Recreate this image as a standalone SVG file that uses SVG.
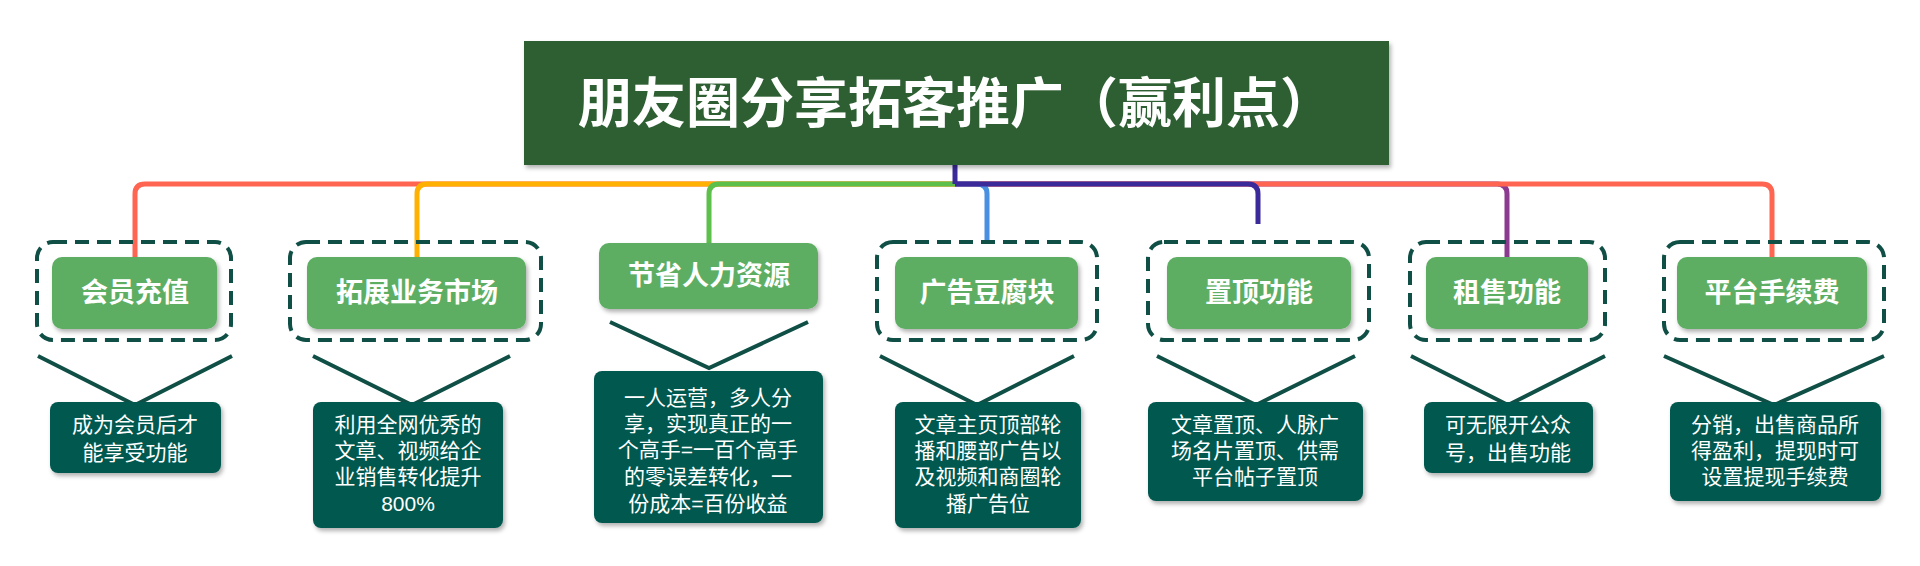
<svg xmlns="http://www.w3.org/2000/svg" width="1920" height="566" viewBox="0 0 1920 566">
<style>
text{font-family:"Liberation Sans","Noto Sans CJK SC",sans-serif;text-anchor:middle;dominant-baseline:central;fill:#fff}
.t{font-size:54px;font-weight:bold}
.n{font-size:27px;font-weight:bold}
.d{font-size:21px}
.dash{fill:none;stroke:#0f4f45;stroke-width:4;stroke-dasharray:14 8}
.g{fill:#5dae64}
.b{fill:#03584f}
.chev{fill:none;stroke:#0f4f45;stroke-width:4}
.c{fill:none;stroke-width:5;stroke-linejoin:round}
</style>
<defs><filter id="sh" x="-10%" y="-10%" width="130%" height="140%"><feDropShadow dx="2" dy="3" stdDeviation="2" flood-opacity="0.3"/></filter></defs>
<rect width="1920" height="566" fill="#fff"/>
<g id="connectors">
<path class="c" stroke="#8b3a8f" d="M955 184 H1497 Q1507 184 1507 194 V257"/>
<path class="c" stroke="#ff6550" d="M955 184 H1762 Q1772 184 1772 194 V257"/>
<path class="c" stroke="#4a90e2" d="M955 184 H977 Q987 184 987 194 V242"/>
<path class="c" stroke="#3a2a9a" d="M955 184 H1248 Q1258 184 1258 194 V224"/>
<path class="c" stroke="#ff6550" d="M955 184 H145 Q135 184 135 194 V257"/>
<path class="c" stroke="#ffb000" d="M955 184 H427 Q417 184 417 194 V257"/>
<path class="c" stroke="#5cc04a" d="M955 184 H719 Q709 184 709 194 V243"/>
<path class="c" stroke="#3a2a9a" d="M955 165 V184"/>
</g>
<g id="title"><rect x="524" y="41" width="865" height="124" fill="#2e5e30" filter="url(#sh)"/><text class="t" x="956" y="104">朋友圈分享拓客推广（赢利点）</text></g>
<g id="n1"><rect class="dash" x="37" y="242" width="194" height="98" rx="16"/><rect class="g" x="52" y="257" width="165" height="72" rx="10" filter="url(#sh)"/><text class="n" x="135" y="293">会员充值</text>
<path class="chev" d="M38 356 L135 405 L232 356"/><rect class="b" x="50" y="402" width="171" height="71" rx="8" filter="url(#sh)"/><text class="d" x="135" y="424">成为会员后才</text><text class="d" x="135" y="452">能享受功能</text></g>
<g id="n2"><rect class="dash" x="290" y="242" width="251" height="98" rx="16"/><rect class="g" x="307" y="257" width="219" height="72" rx="10" filter="url(#sh)"/><text class="n" x="417" y="293">拓展业务市场</text>
<path class="chev" d="M313 356 L412 405 L510 356"/><rect class="b" x="313" y="402" width="190" height="126" rx="8" filter="url(#sh)"/><text class="d" x="408" y="424">利用全网优秀的</text><text class="d" x="408" y="450">文章、视频给企</text><text class="d" x="408" y="476">业销售转化提升</text><text class="d" x="408" y="503">800%</text></g>
<g id="n3"><rect class="g" x="599" y="243" width="219" height="66" rx="10" filter="url(#sh)"/><text class="n" x="709" y="276">节省人力资源</text>
<path class="chev" d="M610 322 L709 368 L808 322"/><rect class="b" x="594" y="371" width="229" height="152" rx="8" filter="url(#sh)"/><text class="d" x="708" y="397">一人运营，多人分</text><text class="d" x="708" y="423">享，实现真正的一</text><text class="d" x="708" y="449">个高手=一百个高手</text><text class="d" x="708" y="476">的零误差转化，一</text><text class="d" x="708" y="503">份成本=百份收益</text></g>
<g id="n4"><rect class="dash" x="877" y="242" width="220" height="98" rx="16"/><rect class="g" x="895" y="257" width="183" height="72" rx="10" filter="url(#sh)"/><text class="n" x="987" y="293">广告豆腐块</text>
<path class="chev" d="M880 356 L977 405 L1074 356"/><rect class="b" x="895" y="402" width="186" height="126" rx="8" filter="url(#sh)"/><text class="d" x="988" y="424">文章主页顶部轮</text><text class="d" x="988" y="450">播和腰部广告以</text><text class="d" x="988" y="476">及视频和商圈轮</text><text class="d" x="988" y="503">播广告位</text></g>
<g id="n5"><rect class="dash" x="1148" y="242" width="221" height="98" rx="16"/><rect class="g" x="1167" y="257" width="184" height="72" rx="10" filter="url(#sh)"/><text class="n" x="1259" y="293">置顶功能</text>
<path class="chev" d="M1157 356 L1256 405 L1355 356"/><rect class="b" x="1148" y="402" width="215" height="99" rx="8" filter="url(#sh)"/><text class="d" x="1255" y="424">文章置顶、人脉广</text><text class="d" x="1255" y="450">场名片置顶、供需</text><text class="d" x="1255" y="476">平台帖子置顶</text></g>
<g id="n6"><rect class="dash" x="1410" y="242" width="195" height="98" rx="16"/><rect class="g" x="1426" y="257" width="162" height="72" rx="10" filter="url(#sh)"/><text class="n" x="1507" y="293">租售功能</text>
<path class="chev" d="M1411 356 L1508 405 L1605 356"/><rect class="b" x="1424" y="402" width="169" height="71" rx="8" filter="url(#sh)"/><text class="d" x="1508" y="424">可无限开公众</text><text class="d" x="1508" y="452">号，出售功能</text></g>
<g id="n7"><rect class="dash" x="1664" y="242" width="220" height="98" rx="16"/><rect class="g" x="1677" y="257" width="190" height="72" rx="10" filter="url(#sh)"/><text class="n" x="1772" y="293">平台手续费</text>
<path class="chev" d="M1664 356 L1774 405 L1884 356"/><rect class="b" x="1670" y="402" width="211" height="99" rx="8" filter="url(#sh)"/><text class="d" x="1775" y="424">分销，出售商品所</text><text class="d" x="1775" y="450">得盈利，提现时可</text><text class="d" x="1775" y="476">设置提现手续费</text></g>
</svg>
